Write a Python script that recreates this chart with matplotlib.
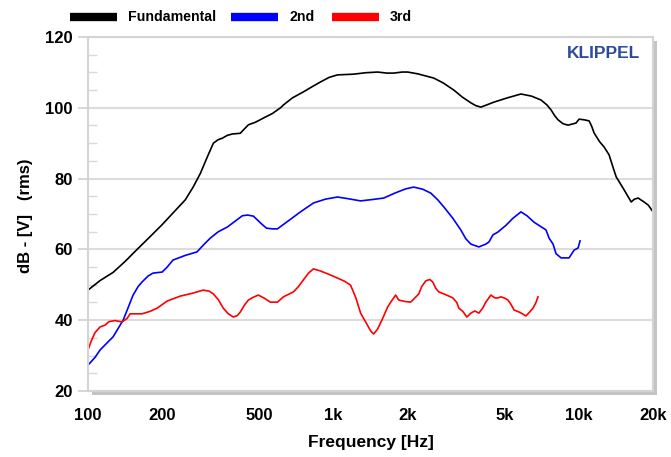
import numpy as np
import matplotlib
matplotlib.use('Agg')
import matplotlib.pyplot as plt
from matplotlib.patches import Rectangle
from matplotlib.lines import Line2D
from matplotlib.ticker import FixedLocator, MultipleLocator, NullLocator

plt.rcParams['font.family'] = ['Liberation Sans', 'DejaVu Sans']
plt.rcParams['font.weight'] = 'bold'

# fundamental (black)
fund_f = [100, 112, 126.5, 141.6, 158.5, 179, 200.5, 222, 249, 268, 287, 306, 324, 339, 352,
          369, 387, 417, 433, 450, 480, 518, 564, 608, 625, 680, 754, 820, 885, 960, 1038,
          1120, 1206, 1350, 1512, 1650, 1758, 1900, 2004, 2200, 2559, 2800, 3090, 3350, 3624,
          3800, 3981, 4200, 4498, 5100, 5797, 6400, 6998, 7400, 7688, 7950, 8210, 8600, 9020,
          9720, 10000, 10500, 10990, 11250, 11510, 12100, 12650, 13250, 13700, 14160, 15200,
          16300, 16800, 17410, 18300, 19140, 20000]
fund_db = [48.5, 51.2, 53.5, 56.6, 60.0, 63.6, 67.0, 70.3, 74.0, 77.6, 81.5, 86.1, 90.0, 91.0,
           91.4, 92.2, 92.6, 92.8, 94.0, 95.2, 95.9, 97.1, 98.4, 100.0, 100.8, 102.8, 104.5,
           106.0, 107.3, 108.6, 109.3, 109.4, 109.5, 109.9, 110.1, 109.8, 109.8, 110.1, 110.1,
           109.6, 108.4, 107.0, 105.0, 103.0, 101.4, 100.6, 100.2, 100.8, 101.6, 102.8, 103.9,
           103.3, 102.2, 100.8, 99.4, 97.8, 96.6, 95.5, 95.1, 95.7, 96.8, 96.6, 96.3, 94.8,
           92.9, 90.5, 88.9, 86.7, 83.5, 80.5, 77.0, 73.4, 74.2, 74.5, 73.5, 72.5, 70.6]

# 2nd harmonic (blue)
h2_f = [100, 106.8, 112, 126.5, 139, 145.6, 152.6, 160, 166, 175.8, 184, 200.5, 210, 222,
        248.9, 278, 297.5, 315, 339.4, 369, 398, 425, 446, 471.5, 503.6, 532.8, 564, 591,
        667.6, 733, 828, 927, 1038, 1151, 1289, 1443, 1600, 1791, 1967, 2121, 2308, 2489,
        2658, 2812, 3060, 3298, 3457, 3624, 3907, 4171, 4295, 4457, 4670, 5036, 5378, 5797,
        6135, 6550, 6998, 7334, 7545, 7833, 8055, 8445, 9104, 9544, 9907, 10090]
h2_db = [27.3, 29.5, 31.6, 35.3, 40.0, 43.5, 47.1, 49.5, 50.8, 52.5, 53.3, 53.6, 55.0, 57.0,
         58.3, 59.3, 61.5, 63.2, 65.0, 66.3, 68.0, 69.5, 69.7, 69.4, 67.5, 66.0, 65.8, 65.8,
         68.5, 70.6, 73.1, 74.2, 74.8, 74.3, 73.7, 74.1, 74.5, 76.0, 77.1, 77.6, 77.0, 75.9,
         74.0, 72.0, 68.8, 65.5, 63.0, 61.5, 60.7, 61.5, 62.1, 64.1, 64.9, 66.8, 68.8, 70.6,
         69.5, 67.7, 66.4, 65.5, 63.2, 61.5, 58.8, 57.6, 57.6, 59.8, 60.4, 62.4]

# 3rd harmonic (red)
h3_f = [100, 102.9, 106.8, 112, 117.3, 121.8, 128.9, 137.6, 144.3, 148.4, 166, 179, 191.2,
        210, 237.4, 265.8, 294.6, 311.8, 324, 339.4, 355.6, 372.8, 390.8, 405.6, 417, 433,
        450, 471.5, 494, 523, 553, 591, 625, 686.8, 719.6, 754, 790.7, 828, 885, 954, 1038,
        1109, 1173, 1230, 1289, 1351, 1416, 1456, 1512, 1585, 1660, 1725, 1791, 1842, 1949,
        2062, 2223, 2286, 2374, 2465, 2535, 2609, 2683, 2865, 3060, 3177, 3237, 3361, 3490,
        3624, 3763, 3907, 4056, 4171, 4373, 4541, 4670, 4805, 4989, 5130, 5278, 5432, 5742,
        6076, 6310, 6490, 6675, 6800]
h3_db = [31.6, 34.0, 36.5, 38.1, 38.6, 39.6, 39.9, 39.5, 40.5, 41.8, 41.8, 42.5, 43.4, 45.4,
         46.8, 47.6, 48.5, 48.2, 47.4, 45.8, 43.4, 41.8, 40.9, 41.3, 42.3, 44.2, 45.7, 46.5,
         47.1, 46.2, 45.1, 45.1, 46.6, 48.0, 49.5, 51.4, 53.3, 54.5, 53.9, 53.0, 51.9, 51.0,
         49.9, 46.5, 42.0, 39.5, 37.0, 36.1, 37.5, 40.5, 43.7, 45.5, 47.1, 45.7, 45.3, 45.1,
         47.4, 49.5, 51.1, 51.5, 50.8, 49.0, 48.0, 47.2, 46.3, 45.0, 43.4, 42.5, 40.9, 42.0,
         42.6, 42.0, 43.5, 45.1, 47.1, 46.3, 46.3, 46.6, 46.2, 45.7, 44.5, 42.9, 42.2, 41.2,
         42.4, 43.4, 45.0, 46.6]

xticks = [100, 200, 500, 1000, 2000, 5000, 10000, 20000]
xtick_labels = ['100', '200', '500', '1k', '2k', '5k', '10k', '20k']
yticks = [20, 40, 60, 80, 100, 120]

W, H = 671, 457
fig = plt.figure(figsize=(W / 100, H / 100), dpi=100)
x0, x1, y0, y1 = 88, 653, 37, 391
ax = fig.add_axes([x0 / W, 1 - y1 / H, (x1 - x0) / W, (y1 - y0) / H])

# drop shadow behind the plot area
sh = 4
fig.patches.append(Rectangle(((x0 + sh) / W, 1 - (y1 + sh) / H), (x1 - x0) / W, (y1 - y0) / H,
                             transform=fig.transFigure, facecolor='#c4c4c4',
                             edgecolor='none', zorder=0))
ax.set_zorder(1)

ax.plot(fund_f, fund_db, color='black', lw=1.2)
ax.plot(h2_f, h2_db, color='#0000ff', lw=1.2)
ax.plot(h3_f, h3_db, color='#ff0000', lw=1.2)

ax.set_xscale('log')
ax.set_xlim(100, 20000)
ax.set_ylim(20, 120)
ax.xaxis.set_major_locator(FixedLocator(xticks))
ax.xaxis.set_minor_locator(NullLocator())
ax.set_xticklabels(xtick_labels)
ax.yaxis.set_major_locator(FixedLocator(yticks))
ax.yaxis.set_minor_locator(MultipleLocator(5))

for s in ax.spines.values():
    s.set_color('#d4d4d4')
    s.set_linewidth(1.5)

ax.grid(axis='y', which='major', color='#dcdcdc', lw=1.5)
ax.tick_params(axis='y', which='major', direction='out', length=7, width=1.2,
               color='#cfcfcf', pad=4, labelsize=12)
ax.tick_params(axis='y', which='minor', direction='in', length=6.5, width=1.0,
               color='#d8d8d8')
ax.tick_params(axis='x', which='major', length=0, pad=12, labelsize=12)

ax.set_xlabel('Frequency [Hz]', fontsize=12.5, fontweight='bold', labelpad=9)
ax.set_ylabel('dB - [V]   (rms)', fontsize=12, fontweight='bold')
ax.yaxis.set_label_coords(-0.097, 0.494)

ax.text(0.977, 0.975, 'KLIPPEL', transform=ax.transAxes, ha='right', va='top',
        color='#2c4b9b', fontsize=12.5, fontweight='bold')

# legend strip above the plot
legend_items = [('Fundamental', 'black', 70), ('2nd', '#0000ff', 231), ('3rd', '#ff0000', 332)]
ly = 1 - 17 / H
for name, col, lx in legend_items:
    fig.add_artist(Line2D([lx / W, (lx + 47) / W], [ly, ly], color=col, lw=6,
                          transform=fig.transFigure, solid_capstyle='butt'))
    fig.text((lx + 58) / W, ly, name, ha='left', va='center', fontsize=10.2,
             fontweight='bold')

fig.savefig('out.png', dpi=100)
